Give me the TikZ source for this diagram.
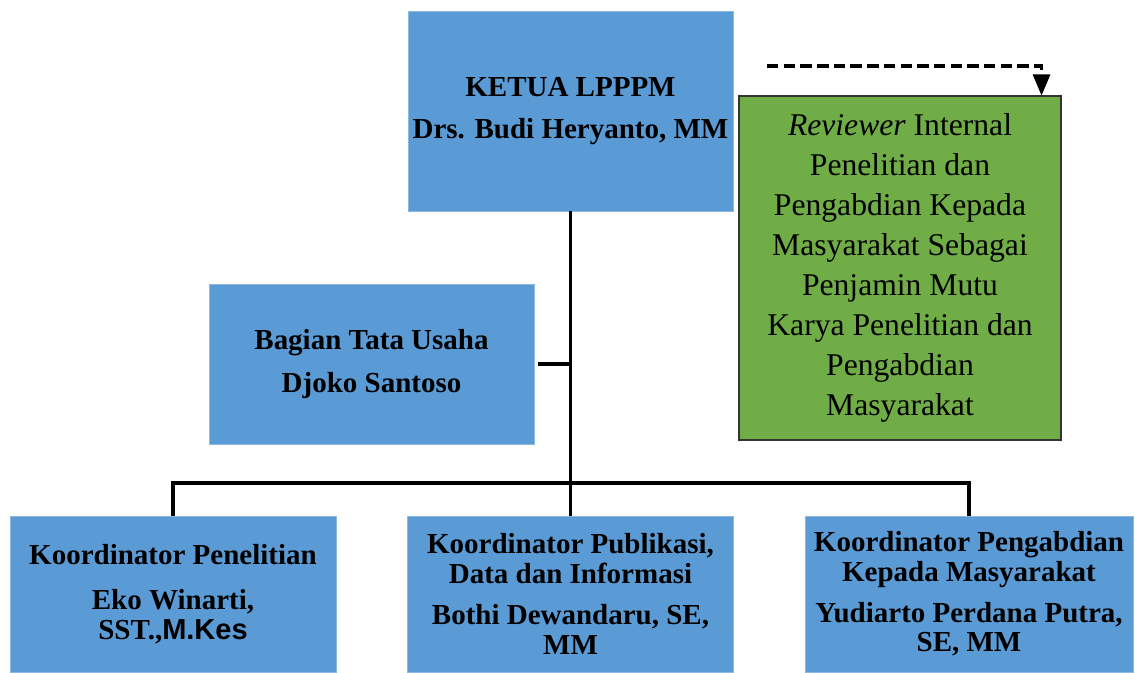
\documentclass[tikz,border=0pt]{standalone}
\usepackage{fontspec}
\setmainfont{Liberation Serif}
\newfontfamily\arialfont{Liberation Sans}
\usepackage{tikz}
\usetikzlibrary{arrows,shapes}
\usetikzlibrary{calc}
\definecolor{boxblue}{HTML}{5B9BD5}
\definecolor{boxgreen}{HTML}{70AD47}
\tikzstyle{bluebox}=[rectangle,fill=boxblue,draw=boxblue!70!white,line width=0.5pt,inner sep=1pt,align=center]
\tikzstyle{greenbox}=[rectangle,fill=boxgreen,draw=black!80,line width=0.6pt,inner sep=1pt,align=center,font=\fontsize{18}{22.7}\selectfont]
\tikzstyle{bigtext}=[font=\fontsize{16.5}{24}\selectfont\bfseries]
\tikzstyle{smalltext}=[font=\fontsize{16.5}{17}\selectfont\bfseries]
\tikzstyle{connector} = [draw,line width=1.8pt]
\tikzstyle{dashedarrow} = [draw,line width=1.8pt,dash pattern=on 6.5pt off 3pt,->,>=triangle 45]

\begin{document}
\begin{tikzpicture}
    \useasboundingbox (0,0) rectangle (22.7,13.44);

    % top and side boxes
    \node[bluebox,bigtext,minimum width=6.5cm,minimum height=4cm] (ketua) at (11.41,11.22)
        {KETUA LPPPM\\ Drs. Budi Heryanto, MM};
    \node[greenbox,minimum width=6.44cm,minimum height=6.88cm] (reviewer) at (18.0,8.08)
        {\textit{Reviewer} Internal\\ Penelitian dan\\ Pengabdian Kepada\\
         Masyarakat Sebagai\\ Penjamin Mutu\\ Karya Penelitian dan\\ Pengabdian\\ Masyarakat};
    \node[bluebox,bigtext,minimum width=6.5cm,minimum height=3.2cm] (tu) at (7.43,6.16)
        {Bagian Tata Usaha\\ Djoko Santoso};

    % koordinator boxes
    \node[bluebox,smalltext,minimum width=6.52cm,minimum height=3.12cm] (penelitian) at (3.46,1.56)
        {Koordinator Penelitian\\[9pt] Eko Winarti,\\ SST.,{\arialfont M.Kes}};
    \node[bluebox,smalltext,minimum width=6.52cm,minimum height=3.12cm] (publikasi) at (11.41,1.56)
        {Koordinator Publikasi,\\ Data dan Informasi\\[6pt] Bothi Dewandaru, SE,\\ MM};
    \node[bluebox,smalltext,minimum width=6.56cm,minimum height=3.12cm] (pengabdian) at (19.38,1.56)
        {Koordinator Pengabdian\\ Kepada Masyarakat\\[6pt] Yudiarto Perdana Putra,\\ SE, MM};

    \coordinate (bus) at (11.41,3.78);
    \coordinate (dashstart) at (15.34,12.12);

    % connect the boxes
    \path[connector] (ketua.south) -- (bus);
    \path[connector,shorten <=2pt] (tu.east) -- (tu.east -| ketua.south);
    \path[connector] (penelitian.north) |- (bus) -| (pengabdian.north);
    \path[connector] (publikasi.north) -- (bus);

    \path[dashedarrow] (dashstart) -| ($(reviewer.north east)+(-0.4,0)$);
\end{tikzpicture}
\end{document}
